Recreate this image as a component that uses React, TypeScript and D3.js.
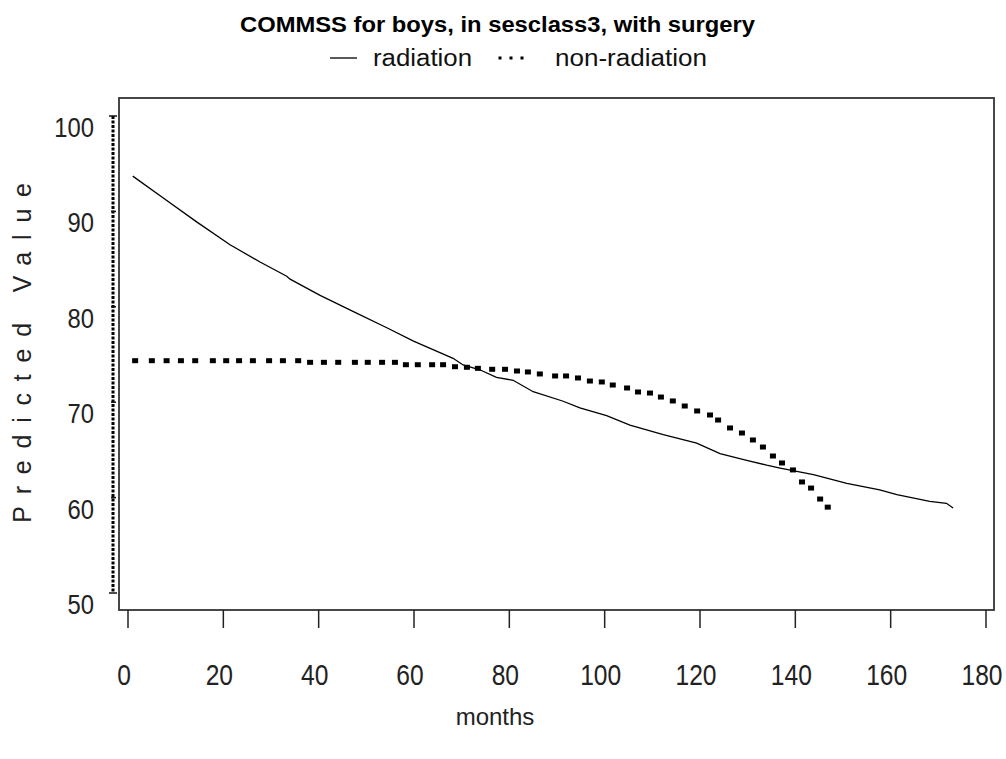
import React from "react";
import * as d3 from "d3";

// radiation curve: [months, predicted value]
const radiationMonths = [1, 7.4, 14.4, 21.4, 27.7, 33.3, 34, 40.3, 47.3, 54.3, 59.9, 68.2, 70.3, 73.8, 77.3, 80.8, 85, 91.3, 94.8, 100.4, 105.3, 112.3, 119.3, 124.2, 129.8, 134, 136.8, 143.8, 150.8, 157.7, 161.3, 168.2, 171.7, 173.1];
const radiationValues = [93.7, 91.4, 88.9, 86.5, 84.7, 83.2, 82.9, 81.2, 79.5, 77.8, 76.4, 74.6, 73.9, 73.4, 72.6, 72.3, 71.1, 70.1, 69.4, 68.6, 67.6, 66.6, 65.7, 64.6, 63.9, 63.4, 63.1, 62.4, 61.5, 60.8, 60.3, 59.6, 59.4, 58.9];

// non-radiation predicted points
const nonRadMonths = [1.5, 5, 8.1, 11.1, 14.1, 17.8, 20.6, 23.3, 26.2, 29.6, 32.5, 35.7, 38.2, 41.1, 44.1, 47.6, 50.3, 53.3, 56, 58.3, 60.8, 63.8, 66.1, 68.6, 71.1, 73.4, 76.4, 79.1, 81.6, 83.9, 86.4, 89.6, 91.9, 94.4, 96.9, 99.4, 101.7, 104.7, 107, 109.5, 111.8, 114.3, 116.8, 119.4, 122.1, 123.8, 126.3, 128.8, 131.1, 133.2, 135.3, 137.2, 139.5, 141.4, 143.3, 145.2, 146.8];
const nonRadValues = [74.35, 74.35, 74.35, 74.35, 74.35, 74.35, 74.35, 74.35, 74.35, 74.35, 74.35, 74.35, 74.18, 74.18, 74.18, 74.18, 74.18, 74.18, 74.18, 73.93, 73.93, 73.93, 73.93, 73.72, 73.66, 73.55, 73.45, 73.45, 73.27, 73.17, 72.96, 72.75, 72.75, 72.54, 72.22, 72.12, 71.8, 71.49, 71.07, 70.96, 70.54, 70.13, 69.6, 69.08, 68.66, 68.13, 67.3, 66.77, 66.04, 65.3, 64.36, 63.63, 62.9, 61.64, 61.0, 59.85, 59.0];

const xTicks = [0, 20, 40, 60, 80, 100, 120, 140, 160, 180];
const yTicks = [50, 60, 70, 80, 90, 100];

const title = "COMMSS for boys, in sesclass3, with surgery";
const xLabel = "months";
const yLabel = "Predicted Value";

const font = "'Liberation Sans', Arial, sans-serif";

export default function App() {
  const x = d3.scaleLinear().domain([0, 180]).range([128, 986]);
  const y = d3.scaleLinear().domain([50, 100]).range([593, 116]);

  const line = d3
    .line<number>()
    .x((_, i) => x(radiationMonths[i]))
    .y((v) => y(v));

  const frame = { left: 119, right: 994, top: 98, bottom: 610 };

  return (
    <svg width={1006} height={759} style={{ position: "absolute", left: 0, top: 0, background: "#fff" }}>
      {/* title + legend */}
      <text x={240} y={32} fontFamily={font} fontWeight="bold" fontSize={22} textLength={515} lengthAdjust="spacingAndGlyphs" fill="#000">
        {title}
      </text>
      <line x1={330} x2={357} y1={58} y2={58} stroke="#000" strokeWidth={1.3} />
      <text x={373} y={66} fontFamily={font} fontSize={23} textLength={99} lengthAdjust="spacingAndGlyphs" fill="#111">
        radiation
      </text>
      {[500, 511, 522].map((cx) => (
        <rect key={cx} x={cx - 1.5} y={56.5} width={3} height={3} fill="#000" />
      ))}
      <text x={555} y={66} fontFamily={font} fontSize={23} textLength={152} lengthAdjust="spacingAndGlyphs" fill="#111">
        non-radiation
      </text>

      {/* frame */}
      <rect
        x={frame.left}
        y={frame.top}
        width={frame.right - frame.left}
        height={frame.bottom - frame.top}
        fill="none"
        stroke="#333"
        strokeWidth={1.8}
      />

      {/* y axis (dotted) */}
      <line x1={113} x2={113} y1={y(100)} y2={y(50)} stroke="#000" strokeWidth={3} strokeDasharray="3,1.5" />
      {yTicks.map((t) => (
        <g key={t}>
          <line
            x1={t === 50 || t === 100 ? 109 : 111}
            x2={t === 50 || t === 100 ? 117 : 116}
            y1={y(t)}
            y2={y(t)}
            stroke="#111"
            strokeWidth={1.5}
          />
          <text
            transform={`translate(94,${y(t) + 21}) scale(0.85,1)`}
            textAnchor="end"
            fontFamily={font}
            fontSize={28}
            fill="#222"
          >
            {t}
          </text>
        </g>
      ))}
      <text
        transform="translate(31,347) rotate(-90)"
        textAnchor="middle"
        fontFamily={font}
        fontSize={25}
        letterSpacing={11.8}
        fill="#222"
      >
        {yLabel}
      </text>

      {/* x ticks */}
      {xTicks.map((t) => (
        <g key={t}>
          <line x1={x(t)} x2={x(t)} y1={frame.bottom} y2={628} stroke="#222" strokeWidth={1.5} />
          <text
            transform={`translate(${x(t) - 4},685) scale(0.82,1)`}
            textAnchor="middle"
            fontFamily={font}
            fontSize={30}
            fill="#222"
          >
            {t}
          </text>
        </g>
      ))}
      <text x={495} y={725} textAnchor="middle" fontFamily={font} fontSize={24} fill="#222">
        {xLabel}
      </text>

      {/* radiation */}
      <path d={line(radiationValues) as string} fill="none" stroke="#000" strokeWidth={1.3} />

      {/* non-radiation */}
      {nonRadMonths.map((m, i) => (
        <rect key={i} x={x(m) - 3} y={y(nonRadValues[i]) - 2.5} width={6} height={5} fill="#000" />
      ))}
    </svg>
  );
}
